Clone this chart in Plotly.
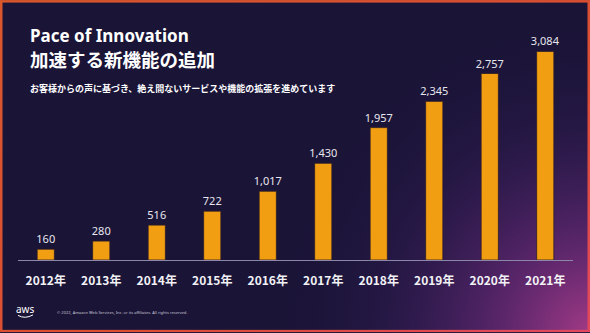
import base64
import plotly.graph_objects as go

years = ["2012年", "2013年", "2014年", "2015年", "2016年", "2017年", "2018年", "2019年", "2020年", "2021年"]
releases = [160, 280, 516, 722, 1017, 1430, 1957, 2345, 2757, 3084]
labels = [f"{v:,}" for v in releases]

title_en = "Pace of Innovation"
title_ja = "加速する新機能の追加"
subtitle = "お客様からの声に基づき、絶え間ないサービスや機能の拡張を進めています"
copyright_txt = "© 2022, Amazon Web Services, Inc. or its affiliates. All rights reserved."

W, H = 590, 333
ML, MR, MT, MB = 18, 17, 30, 72.5
PW, PH = W - ML - MR, H - MT - MB


def px(x):
    return (x - ML) / PW


def py(y):
    return (H - MB - y) / PH


BG = "#1a1437"
BAR = "#f29e12"

svg = f'''<svg xmlns="http://www.w3.org/2000/svg" width="{W}" height="{H}" viewBox="0 0 {W} {H}">
<defs>
<radialGradient id="g" cx="{W}" cy="{H}" r="320" gradientUnits="userSpaceOnUse">
<stop offset="0" stop-color="#a23a86" stop-opacity="1"/>
<stop offset="0.3" stop-color="#6a2a78" stop-opacity="0.75"/>
<stop offset="0.65" stop-color="#3a1f5e" stop-opacity="0.35"/>
<stop offset="1" stop-color="{BG}" stop-opacity="0"/>
</radialGradient>
<linearGradient id="b" x1="0" y1="0" x2="1" y2="1">
<stop offset="0" stop-color="#d9572b"/>
<stop offset="0.6" stop-color="#dc4e33"/>
<stop offset="1" stop-color="#e2485e"/>
</linearGradient>
</defs>
<rect width="{W}" height="{H}" fill="{BG}"/>
<rect width="{W}" height="{H}" fill="url(#g)"/>
<rect x="1.25" y="1.25" width="{W-2.5}" height="{H-2.5}" fill="none" stroke="url(#b)" stroke-width="2.5"/>
</svg>'''
src = "data:image/svg+xml;base64," + base64.b64encode(svg.encode()).decode()

fig = go.Figure()
fig.add_trace(go.Bar(
    x=years, y=releases, text=labels, textposition="outside",
    constraintext="none",
    textfont=dict(family="Noto Sans, sans-serif", size=11, color="#e8e6ee"),
    marker=dict(color=BAR, line=dict(color="#2a1a2a", width=0.8)),
    cliponaxis=False, hoverinfo="skip",
))

fig.update_layout(
    width=W, height=H,
    margin=dict(l=ML, r=MR, t=MT, b=MB),
    paper_bgcolor=BG, plot_bgcolor="rgba(0,0,0,0)",
    bargap=0.69, showlegend=False,
    xaxis=dict(
        type="category", showgrid=False, zeroline=False,
        showline=True, linecolor="#8c87a8", linewidth=1.2,
        ticks="outside", ticklen=9, tickcolor="rgba(0,0,0,0)",
        tickfont=dict(family="Noto Sans CJK JP, sans-serif", size=12, color="#f2f2f5", weight="bold"),
    ),
    yaxis=dict(range=[0, 3400], visible=False, showgrid=False, zeroline=False),
    images=[dict(
        source=src, xref="paper", yref="paper",
        x=px(0), y=py(0), sizex=W / PW, sizey=H / PH,
        xanchor="left", yanchor="top", sizing="stretch", layer="below",
    )],
    annotations=[
        dict(text=f"<b>{title_en}</b>", x=px(28), y=py(36), xref="paper", yref="paper",
             xanchor="left", yanchor="middle", showarrow=False,
             font=dict(family="Noto Sans, sans-serif", size=17, color="#ffffff")),
        dict(text=f"<b>{title_ja}</b>", x=px(28), y=py(59.5), xref="paper", yref="paper",
             xanchor="left", yanchor="middle", showarrow=False,
             font=dict(family="Noto Sans CJK JP, sans-serif", size=18.5, color="#ffffff")),
        dict(text=f"<b>{subtitle}</b>", x=px(28), y=py(89), xref="paper", yref="paper",
             xanchor="left", yanchor="middle", showarrow=False,
             font=dict(family="Noto Sans CJK JP, sans-serif", size=9, color="#ffffff")),
        dict(text=copyright_txt, x=px(55), y=py(313.5), xref="paper", yref="paper",
             xanchor="left", yanchor="middle", showarrow=False,
             font=dict(family="Noto Sans, sans-serif", size=4, color="#c8c6d4")),
        dict(text="aws", x=px(25), y=py(310), xref="paper", yref="paper",
             xanchor="center", yanchor="middle", showarrow=False,
             font=dict(family="Noto Sans, sans-serif", size=10, color="#ffffff")),
    ],
    shapes=[
        dict(type="path", xref="paper", yref="paper",
             path=f"M {px(18)},{py(316)} Q {px(25)},{py(320)} {px(33)},{py(315.5)}",
             line=dict(color="#ffffff", width=1)),
    ],
)

fig.write_html("out.html")
